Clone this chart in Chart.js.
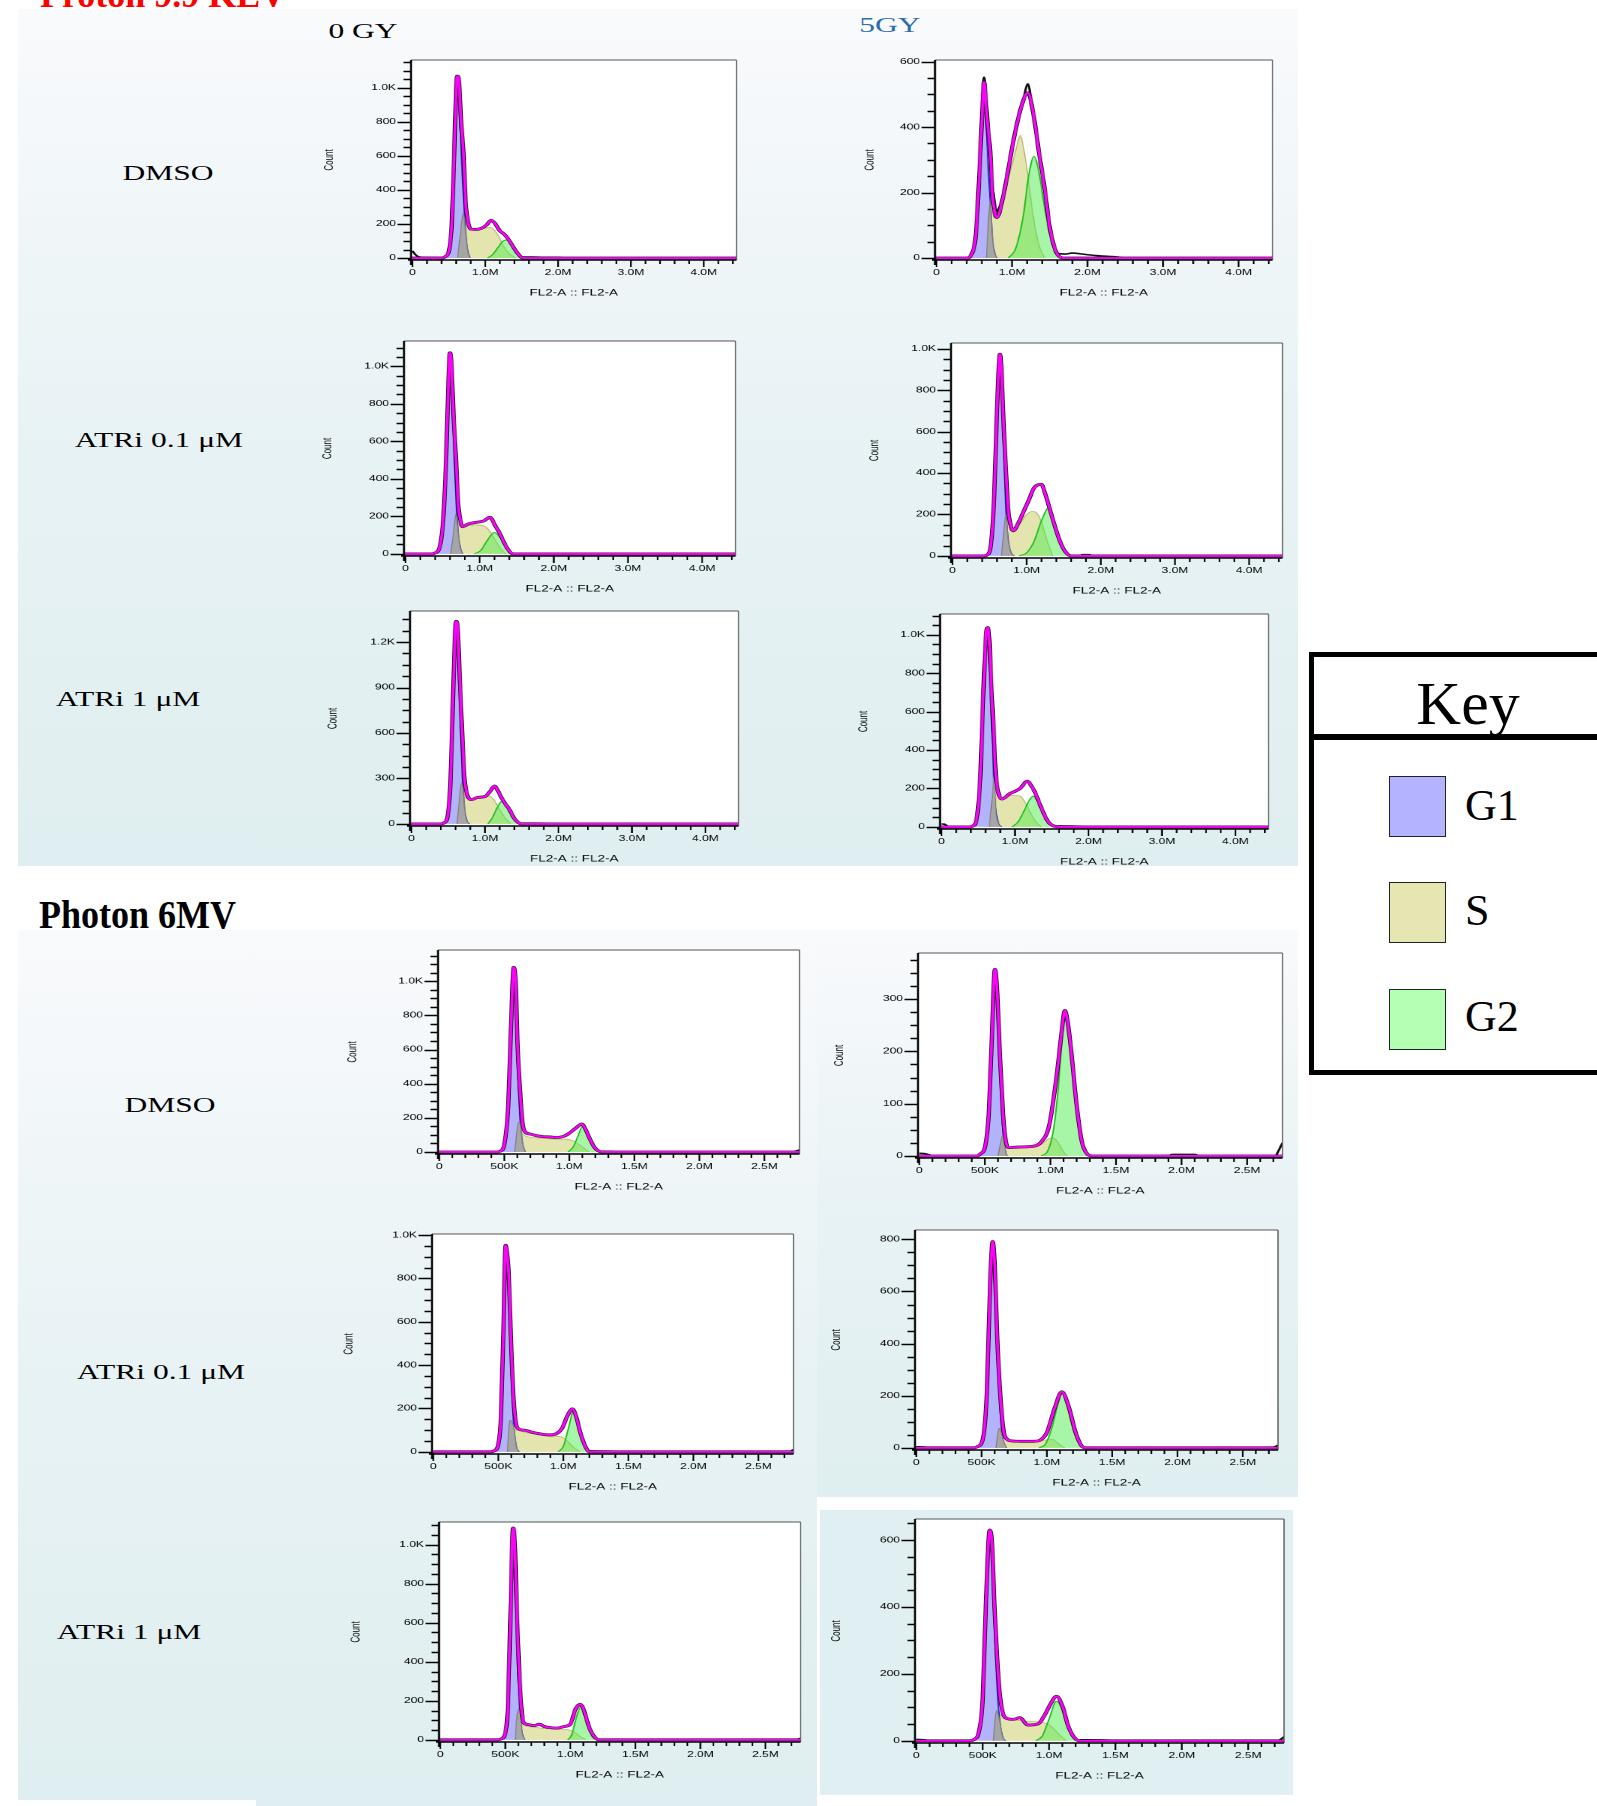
<!DOCTYPE html>
<html>
<head>
<meta charset="utf-8">
<script src="https://cdn.jsdelivr.net/npm/chart.js@4.4.1/dist/chart.umd.min.js"></script>
<style>
html, body { margin: 0; padding: 0; background: #fff; }
body { width: 1597px; height: 1806px; position: relative; overflow: hidden;
  font-family: "Liberation Serif", "Times New Roman", serif; }
.bg { position: absolute; }
.grad { background: linear-gradient(to bottom, #f9fafc 0%, #e9f3f5 45%, #dfeef0 100%); }
.lbl { position: absolute; white-space: nowrap; font-size: 21px; line-height: 24px; color: #000;
  transform: translate(-50%, -50%) scaleX(1.5); }
.plot { position: absolute; transform-origin: 0 0; transform: scaleX(1.5); }
.sw { position: absolute; width: 57px; height: 61px; border: 1.5px solid #222; box-sizing: border-box; }
.key { position: absolute; font-size: 44px; line-height: 44px; }
</style>
</head>
<body>

<!-- background panels -->
<div class="bg grad" style="left:18px;top:9px;width:1280px;height:857px;"></div>
<div class="bg grad" style="left:18px;top:930px;width:799px;height:876px;"></div>
<div class="bg grad" style="left:817px;top:930px;width:481px;height:567px;"></div>
<div class="bg" style="left:820px;top:1510px;width:473px;height:285px;background:#e0eff1;"></div>
<div class="bg" style="left:18px;top:1800px;width:238px;height:6px;background:#fff;"></div>

<!-- headings -->
<div style="position:absolute;left:40px;top:-23px;font-size:36px;line-height:36px;font-weight:bold;color:#ff0000;white-space:nowrap;">Proton 9.9 KEV</div>
<div class="lbl" style="left:363px;top:31px;">0 GY</div>
<div class="lbl" style="left:890px;top:25px;color:#2b6cb0;">5GY</div>
<div style="position:absolute;left:39px;top:895px;font-size:40px;line-height:40px;font-weight:bold;white-space:nowrap;transform:scaleX(0.9);transform-origin:0 0;">Photon 6MV</div>

<div class="lbl" style="left:168px;top:173px;">DMSO</div>
<div class="lbl" style="left:159px;top:440px;">ATRi 0.1 μM</div>
<div class="lbl" style="left:128px;top:699px;">ATRi 1 μM</div>
<div class="lbl" style="left:170px;top:1105px;">DMSO</div>
<div class="lbl" style="left:161px;top:1372px;">ATRi 0.1 μM</div>
<div class="lbl" style="left:129px;top:1632px;">ATRi 1 μM</div>

<!-- key -->
<div style="position:absolute;left:1309px;top:652px;width:330px;height:423px;border:5px solid #000;box-sizing:border-box;background:#fff;"></div>
<div style="position:absolute;left:1309px;top:734px;width:330px;height:6px;background:#000;"></div>
<div style="position:absolute;left:1468px;top:672px;font-size:62px;line-height:62px;transform:translateX(-50%);">Key</div>
<div class="sw" style="left:1389px;top:776px;background:#b3b3ff;"></div>
<div class="sw" style="left:1389px;top:882px;background:#e6e6b3;"></div>
<div class="sw" style="left:1389px;top:989px;background:#b3ffb3;"></div>
<div class="key" style="left:1465px;top:784px;">G1</div>
<div class="key" style="left:1465px;top:889px;">S</div>
<div class="key" style="left:1465px;top:995px;">G2</div>

<script>
// ---- tick values / labels ----
const PROTON_X_TICKS = [0, 1, 2, 3, 4];
const PROTON_X_LABELS = ['0', '1.0M', '2.0M', '3.0M', '4.0M'];
const PHOTON_X_TICKS = [0, 0.5, 1, 1.5, 2, 2.5];
const PHOTON_X_LABELS = ['0', '500K', '1.0M', '1.5M', '2.0M', '2.5M'];

// panel order: proton DMSO 0GY, 5GY, ATRi0.1 0GY, 5GY, ATRi1 0GY, 5GY, then photon in same order
const Y_MAX  = [1163, 605, 1135, 1028, 1405, 1108, 1183, 388, 1005, 836, 1116, 663];
const Y_STEP = [200, 200, 200, 200, 300, 200, 200, 100, 200, 200, 200, 200];

// ---- Proton 9.9 KEV, DMSO ----
const PR_DMSO_0GY_G1 = [[0.44,0],[0.50,30],[0.54,180],[0.57,520],[0.60,960],[0.615,1030],[0.64,900],[0.67,620],[0.70,360],[0.73,150],[0.76,40],[0.79,0]];
const PR_DMSO_0GY_S = [[0.62,0],[0.66,150],[0.70,265],[0.74,200],[0.79,165],[0.87,165],[0.95,170],[1.05,180],[1.10,175],[1.18,130],[1.25,70],[1.33,25],[1.42,0]];
const PR_DMSO_0GY_G2 = [[1.03,0],[1.10,20],[1.18,65],[1.24,98],[1.29,106],[1.34,90],[1.40,50],[1.46,15],[1.52,0]];
const PR_DMSO_0GY_GRAY = [[0.62,0],[0.66,150],[0.70,265],[0.73,150],[0.76,40],[0.79,0]];
const PR_DMSO_0GY_SUM = [[-0.1,0],[0.40,0],[0.45,8],[0.50,40],[0.54,200],[0.57,560],[0.60,1000],[0.615,1068],[0.64,1030],[0.67,790],[0.70,620],[0.73,330],[0.76,220],[0.80,170],[0.87,168],[0.95,175],[1.02,195],[1.08,222],[1.13,205],[1.20,160],[1.26,140],[1.31,115],[1.37,75],[1.44,30],[1.52,0],[4.5,0]];
const PR_DMSO_0GY_RAW = [[0,42],[0.03,25],[0.08,8],[0.15,4],[0.30,3],[0.42,3],[0.45,8],[0.46,null],[1.50,6],[1.65,6],[1.80,4],[2.0,4],[2.1,0]];

const PR_DMSO_5GY_G1 = [[0.45,0],[0.52,60],[0.57,250],[0.61,440],[0.63,485],[0.65,440],[0.68,300],[0.71,175],[0.74,60],[0.77,15],[0.80,0]];
const PR_DMSO_5GY_S = [[0.66,0],[0.69,120],[0.71,175],[0.74,140],[0.80,120],[0.86,160],[0.95,240],[1.05,330],[1.11,375],[1.15,340],[1.20,270],[1.28,130],[1.35,45],[1.43,0]];
const PR_DMSO_5GY_G2 = [[0.95,0],[1.05,30],[1.15,130],[1.22,250],[1.29,310],[1.35,270],[1.42,170],[1.50,70],[1.57,15],[1.64,0]];
const PR_DMSO_5GY_GRAY = [[0.66,0],[0.69,120],[0.71,172],[0.74,60],[0.77,15],[0.80,0]];
const PR_DMSO_5GY_SUM = [[-0.1,0],[0.40,0],[0.46,10],[0.52,70],[0.57,270],[0.61,470],[0.63,537],[0.65,490],[0.68,400],[0.71,330],[0.74,200],[0.77,140],[0.80,124],[0.88,185],[0.95,270],[1.02,360],[1.12,460],[1.21,505],[1.29,430],[1.36,318],[1.43,216],[1.50,94],[1.60,12],[1.70,0],[4.5,0]];
const PR_DMSO_5GY_RAW = [[0.60,470],[0.63,552],[0.66,470],[0.665,null],[0.74,215],[0.80,143],[0.86,172],[0.861,null],[1.14,470],[1.21,532],[1.27,455],[1.271,null],[1.58,14],[1.70,12],[1.80,15],[1.90,13],[2.0,10],[2.2,6],[2.4,3],[2.5,0]];

// ---- Proton, ATRi 0.1 uM ----
const PR_A01_0GY_G1 = [[0.40,0],[0.46,30],[0.51,180],[0.55,500],[0.58,880],[0.60,980],[0.62,900],[0.65,600],[0.68,300],[0.71,110],[0.74,30],[0.77,0]];
const PR_A01_0GY_S = [[0.61,0],[0.65,120],[0.68,215],[0.72,160],[0.77,140],[0.85,150],[0.95,155],[1.05,150],[1.12,130],[1.20,80],[1.28,30],[1.35,0]];
const PR_A01_0GY_G2 = [[0.93,0],[1.02,20],[1.10,70],[1.20,114],[1.27,90],[1.33,50],[1.38,20],[1.43,0]];
const PR_A01_0GY_GRAY = [[0.61,0],[0.65,120],[0.68,215],[0.71,110],[0.74,30],[0.77,0]];
const PR_A01_0GY_SUM = [[-0.1,0],[0.36,0],[0.40,5],[0.46,35],[0.51,190],[0.55,530],[0.58,930],[0.60,1072],[0.62,1010],[0.65,720],[0.68,515],[0.71,270],[0.74,180],[0.77,145],[0.85,160],[0.95,168],[1.05,175],[1.14,195],[1.21,150],[1.27,110],[1.31,76],[1.38,25],[1.45,0],[4.5,0]];
const PR_A01_0GY_RAW = [];

const PR_A01_5GY_G1 = [[0.47,0],[0.52,50],[0.56,250],[0.60,650],[0.63,900],[0.64,931],[0.66,840],[0.69,520],[0.72,230],[0.75,80],[0.79,15],[0.83,0]];
const PR_A01_5GY_S = [[0.66,0],[0.69,110],[0.72,198],[0.76,150],[0.82,115],[0.90,150],[1.00,200],[1.08,215],[1.14,205],[1.20,165],[1.27,80],[1.35,0]];
const PR_A01_5GY_G2 = [[0.90,0],[1.00,15],[1.10,70],[1.20,170],[1.30,233],[1.37,170],[1.44,80],[1.50,25],[1.56,0]];
const PR_A01_5GY_GRAY = [[0.66,0],[0.69,110],[0.72,198],[0.75,80],[0.79,15],[0.83,0]];
const PR_A01_5GY_SUM = [[-0.1,0],[0.42,0],[0.47,5],[0.52,60],[0.56,270],[0.60,700],[0.63,950],[0.64,974],[0.66,900],[0.69,630],[0.72,420],[0.75,230],[0.79,140],[0.82,121],[0.89,160],[0.96,215],[1.03,270],[1.10,328],[1.20,345],[1.25,300],[1.30,241],[1.35,180],[1.40,121],[1.45,70],[1.51,26],[1.60,0],[4.5,0]];
const PR_A01_5GY_RAW = [[1.72,0],[1.75,6],[1.85,6],[1.88,0]];

// ---- Proton, ATRi 1 uM ----
const PR_A1_0GY_G1 = [[0.44,0],[0.49,40],[0.53,250],[0.56,700],[0.59,1180],[0.61,1300],[0.63,1180],[0.66,760],[0.69,330],[0.72,110],[0.75,25],[0.79,0]];
const PR_A1_0GY_S = [[0.62,0],[0.65,150],[0.68,270],[0.72,200],[0.77,165],[0.85,170],[0.95,178],[1.05,185],[1.12,160],[1.20,95],[1.28,35],[1.35,0]];
const PR_A1_0GY_G2 = [[1.04,0],[1.10,40],[1.17,110],[1.23,149],[1.29,120],[1.35,60],[1.42,15],[1.48,0]];
const PR_A1_0GY_GRAY = [[0.62,0],[0.65,150],[0.68,270],[0.70,230],[0.72,110],[0.75,25],[0.79,0]];
const PR_A1_0GY_SUM = [[-0.1,0],[0.40,0],[0.45,8],[0.49,45],[0.53,270],[0.56,740],[0.59,1230],[0.61,1337],[0.63,1280],[0.66,920],[0.69,600],[0.72,310],[0.76,190],[0.82,160],[0.90,175],[1.00,180],[1.07,215],[1.13,250],[1.18,215],[1.23,168],[1.28,130],[1.33,97],[1.40,35],[1.50,0],[4.5,0]];
const PR_A1_0GY_RAW = [[1.5,5],[1.7,5],[1.9,4],[2.0,0]];

const PR_A1_5GY_G1 = [[0.42,0],[0.48,40],[0.53,250],[0.57,650],[0.61,960],[0.63,981],[0.65,890],[0.68,560],[0.71,270],[0.74,90],[0.78,15],[0.82,0]];
const PR_A1_5GY_S = [[0.65,0],[0.69,150],[0.72,266],[0.75,190],[0.82,145],[0.90,160],[1.00,164],[1.07,160],[1.15,120],[1.23,60],[1.30,20],[1.36,0]];
const PR_A1_5GY_G2 = [[0.96,0],[1.04,25],[1.12,80],[1.19,135],[1.25,160],[1.31,130],[1.38,70],[1.45,25],[1.53,0]];
const PR_A1_5GY_GRAY = [[0.65,0],[0.69,150],[0.72,266],[0.74,90],[0.78,15],[0.82,0]];
const PR_A1_5GY_SUM = [[-0.1,0],[0.38,0],[0.43,5],[0.48,45],[0.53,270],[0.57,700],[0.61,1010],[0.63,1037],[0.65,980],[0.68,720],[0.71,500],[0.74,270],[0.78,170],[0.82,145],[0.93,173],[1.00,185],[1.07,200],[1.17,238],[1.22,215],[1.27,182],[1.32,135],[1.37,89],[1.43,40],[1.48,15],[1.60,0],[4.5,0]];
const PR_A1_5GY_RAW = [[0,15],[0.04,14],[0.08,4],[0.12,0],[0.13,null],[1.55,5],[1.8,4],[2.0,3],[2.05,0]];

// ---- Photon 6MV, DMSO ----
const PH_DMSO_0GY_G1 = [[0.46,0],[0.50,40],[0.53,250],[0.55,650],[0.57,1010],[0.585,900],[0.60,520],[0.62,200],[0.64,50],[0.66,0]];
const PH_DMSO_0GY_S = [[0.58,0],[0.60,140],[0.61,176],[0.63,120],[0.66,95],[0.72,85],[0.80,80],[0.90,75],[0.98,75],[1.04,60],[1.10,30],[1.15,0]];
const PH_DMSO_0GY_G2 = [[0.99,0],[1.03,30],[1.07,100],[1.10,148],[1.13,120],[1.17,55],[1.21,10],[1.23,0]];
const PH_DMSO_0GY_GRAY = [[0.58,0],[0.60,140],[0.61,176],[0.62,170],[0.64,50],[0.66,0]];
const PH_DMSO_0GY_SUM = [[-0.1,0],[0.44,0],[0.47,5],[0.50,45],[0.53,270],[0.55,700],[0.572,1081],[0.59,950],[0.60,660],[0.62,370],[0.64,170],[0.66,117],[0.70,105],[0.75,95],[0.80,90],[0.85,88],[0.90,85],[0.95,90],[0.99,105],[1.05,140],[1.095,164],[1.12,140],[1.155,81],[1.19,30],[1.22,8],[1.25,0],[2.8,0]];
const PH_DMSO_0GY_RAW = [[1.25,4],[1.33,3],[1.36,0],[1.37,null],[2.72,0],[2.77,12]];

const PH_DMSO_5GY_G1 = [[0.46,0],[0.50,15],[0.53,80],[0.55,200],[0.57,310],[0.58,328],[0.595,280],[0.615,150],[0.64,40],[0.66,5],[0.67,0]];
const PH_DMSO_5GY_S = [[0.60,0],[0.62,25],[0.635,39],[0.65,25],[0.68,16],[0.75,17],[0.85,18],[0.93,22],[0.98,32],[1.02,35],[1.06,25],[1.10,8],[1.13,0]];
const PH_DMSO_5GY_G2 = [[0.93,0],[0.98,10],[1.02,45],[1.06,130],[1.09,230],[1.11,274],[1.13,250],[1.16,180],[1.20,90],[1.24,25],[1.28,0]];
const PH_DMSO_5GY_GRAY = [[0.60,0],[0.62,25],[0.635,39],[0.65,25],[0.66,5],[0.67,0]];
const PH_DMSO_5GY_SUM = [[-0.1,0],[0.44,0],[0.47,5],[0.50,16],[0.53,82],[0.55,205],[0.577,357],[0.595,310],[0.615,190],[0.64,75],[0.66,28],[0.68,16],[0.75,17],[0.85,18],[0.93,27],[0.99,58],[1.05,158],[1.085,236],[1.11,278],[1.135,250],[1.16,197],[1.20,97],[1.24,27],[1.28,4],[1.32,0],[2.8,0]];
const PH_DMSO_5GY_RAW = [[0,5],[0.05,4],[0.1,0],[0.11,null],[1.9,0],[1.93,3],[2.1,3],[2.13,0],[2.14,null],[2.72,0],[2.77,25]];

// ---- Photon, ATRi 0.1 uM ----
const PH_A01_0GY_G1 = [[0.47,0],[0.50,30],[0.52,150],[0.54,550],[0.555,880],[0.565,903],[0.58,720],[0.60,350],[0.62,110],[0.64,20],[0.66,0]];
const PH_A01_0GY_S = [[0.57,0],[0.58,100],[0.59,146],[0.61,110],[0.65,100],[0.72,88],[0.80,80],[0.90,72],[0.98,70],[1.03,50],[1.08,20],[1.13,0]];
const PH_A01_0GY_G2 = [[0.96,0],[1.00,25],[1.04,110],[1.076,183],[1.10,150],[1.14,60],[1.18,12],[1.21,0]];
const PH_A01_0GY_GRAY = [[0.57,0],[0.58,100],[0.59,146],[0.61,130],[0.62,110],[0.64,20],[0.66,0]];
const PH_A01_0GY_SUM = [[-0.1,0],[0.44,0],[0.47,5],[0.50,35],[0.52,160],[0.54,580],[0.556,953],[0.57,900],[0.58,820],[0.60,470],[0.62,220],[0.65,108],[0.70,100],[0.75,92],[0.80,85],[0.85,80],[0.90,78],[0.95,85],[0.99,108],[1.03,164],[1.07,198],[1.10,160],[1.13,90],[1.17,24],[1.20,0],[2.8,0]];
const PH_A01_0GY_RAW = [[1.2,4],[1.35,3],[1.5,0],[1.51,null],[2.74,0],[2.77,10]];

const PH_A01_5GY_G1 = [[0.47,0],[0.51,30],[0.54,200],[0.565,600],[0.585,761],[0.60,650],[0.62,360],[0.645,120],[0.665,30],[0.69,0]];
const PH_A01_5GY_S = [[0.61,0],[0.625,55],[0.635,75],[0.66,45],[0.69,30],[0.76,24],[0.85,24],[0.93,26],[0.99,30],[1.04,33],[1.08,20],[1.12,5],[1.14,0]];
const PH_A01_5GY_G2 = [[0.94,0],[0.99,15],[1.04,80],[1.08,160],[1.115,212],[1.15,170],[1.19,90],[1.23,30],[1.27,5],[1.30,0]];
const PH_A01_5GY_GRAY = [[0.61,0],[0.625,55],[0.635,75],[0.65,60],[0.665,30],[0.69,0]];
const PH_A01_5GY_SUM = [[-0.1,0],[0.44,0],[0.47,5],[0.51,35],[0.54,210],[0.565,620],[0.585,792],[0.60,710],[0.62,420],[0.645,190],[0.67,60],[0.69,36],[0.72,27],[0.80,25],[0.90,25],[0.95,30],[1.00,59],[1.06,153],[1.115,215],[1.17,153],[1.22,59],[1.27,5],[1.30,0],[2.8,0]];
const PH_A01_5GY_RAW = [[0,4],[0.06,3],[0.1,0],[0.11,null],[2.73,0],[2.77,10]];

// ---- Photon, ATRi 1 uM ----
const PH_A1_0GY_G1 = [[0.47,0],[0.50,30],[0.52,160],[0.54,600],[0.555,1000],[0.56,1060],[0.575,870],[0.59,480],[0.61,170],[0.63,35],[0.65,0]];
const PH_A1_0GY_S = [[0.575,0],[0.59,120],[0.60,157],[0.62,100],[0.65,75],[0.72,65],[0.80,58],[0.90,55],[0.98,52],[1.03,40],[1.08,15],[1.12,0]];
const PH_A1_0GY_G2 = [[0.98,0],[1.01,25],[1.045,110],[1.077,165],[1.10,140],[1.14,60],[1.17,15],[1.20,0]];
const PH_A1_0GY_GRAY = [[0.575,0],[0.59,120],[0.60,157],[0.61,150],[0.63,35],[0.65,0]];
const PH_A1_0GY_SUM = [[-0.1,0],[0.44,0],[0.47,5],[0.50,35],[0.52,170],[0.54,650],[0.56,1085],[0.575,980],[0.59,620],[0.61,300],[0.64,89],[0.68,78],[0.72,72],[0.76,80],[0.80,68],[0.85,62],[0.90,60],[0.95,68],[1.00,80],[1.04,157],[1.077,182],[1.10,160],[1.125,106],[1.15,55],[1.18,20],[1.22,0],[2.8,0]];
const PH_A1_0GY_RAW = [[2.74,0],[2.77,8]];

const PH_A1_5GY_G1 = [[0.42,0],[0.47,20],[0.50,120],[0.525,400],[0.545,600],[0.553,620],[0.57,530],[0.59,320],[0.61,150],[0.63,55],[0.65,12],[0.67,0]];
const PH_A1_5GY_S = [[0.58,0],[0.595,70],[0.605,91],[0.63,80],[0.67,66],[0.75,62],[0.85,58],[0.95,55],[1.00,48],[1.05,30],[1.10,10],[1.13,0]];
const PH_A1_5GY_G2 = [[0.90,0],[0.95,15],[1.00,65],[1.056,118],[1.09,100],[1.13,50],[1.17,15],[1.20,0]];
const PH_A1_5GY_GRAY = [[0.58,0],[0.595,70],[0.605,91],[0.63,55],[0.65,12],[0.67,0]];
const PH_A1_5GY_SUM = [[-0.1,0],[0.40,0],[0.44,5],[0.47,25],[0.50,125],[0.525,420],[0.553,630],[0.57,590],[0.59,390],[0.61,240],[0.63,135],[0.67,69],[0.73,64],[0.78,69],[0.84,47],[0.92,51],[0.97,79],[1.01,109],[1.056,133],[1.105,99],[1.14,49],[1.18,15],[1.23,0],[2.8,0]];
const PH_A1_5GY_RAW = [[0,4],[0.06,3],[0.1,0],[0.11,null],[1.23,3],[1.45,2],[1.5,0],[1.51,null],[2.73,0],[2.77,12]];

const PANEL_G1 = [PR_DMSO_0GY_G1, PR_DMSO_5GY_G1, PR_A01_0GY_G1, PR_A01_5GY_G1, PR_A1_0GY_G1, PR_A1_5GY_G1,
  PH_DMSO_0GY_G1, PH_DMSO_5GY_G1, PH_A01_0GY_G1, PH_A01_5GY_G1, PH_A1_0GY_G1, PH_A1_5GY_G1];
const PANEL_S = [PR_DMSO_0GY_S, PR_DMSO_5GY_S, PR_A01_0GY_S, PR_A01_5GY_S, PR_A1_0GY_S, PR_A1_5GY_S,
  PH_DMSO_0GY_S, PH_DMSO_5GY_S, PH_A01_0GY_S, PH_A01_5GY_S, PH_A1_0GY_S, PH_A1_5GY_S];
const PANEL_G2 = [PR_DMSO_0GY_G2, PR_DMSO_5GY_G2, PR_A01_0GY_G2, PR_A01_5GY_G2, PR_A1_0GY_G2, PR_A1_5GY_G2,
  PH_DMSO_0GY_G2, PH_DMSO_5GY_G2, PH_A01_0GY_G2, PH_A01_5GY_G2, PH_A1_0GY_G2, PH_A1_5GY_G2];
const PANEL_GRAY = [PR_DMSO_0GY_GRAY, PR_DMSO_5GY_GRAY, PR_A01_0GY_GRAY, PR_A01_5GY_GRAY, PR_A1_0GY_GRAY, PR_A1_5GY_GRAY,
  PH_DMSO_0GY_GRAY, PH_DMSO_5GY_GRAY, PH_A01_0GY_GRAY, PH_A01_5GY_GRAY, PH_A1_0GY_GRAY, PH_A1_5GY_GRAY];
const PANEL_SUM = [PR_DMSO_0GY_SUM, PR_DMSO_5GY_SUM, PR_A01_0GY_SUM, PR_A01_5GY_SUM, PR_A1_0GY_SUM, PR_A1_5GY_SUM,
  PH_DMSO_0GY_SUM, PH_DMSO_5GY_SUM, PH_A01_0GY_SUM, PH_A01_5GY_SUM, PH_A1_0GY_SUM, PH_A1_5GY_SUM];
const PANEL_RAW = [PR_DMSO_0GY_RAW, PR_DMSO_5GY_RAW, PR_A01_0GY_RAW, PR_A01_5GY_RAW, PR_A1_0GY_RAW, PR_A1_5GY_RAW,
  PH_DMSO_0GY_RAW, PH_DMSO_5GY_RAW, PH_A01_0GY_RAW, PH_A01_5GY_RAW, PH_A1_0GY_RAW, PH_A1_5GY_RAW];

// ---- layout (page px): plot frame left, top, right, bottom; distance of "Count" from frame ----
const FRAMES = [
  [411, 60, 737, 260], [935, 60, 1272, 260],
  [404, 341, 735, 556], [951, 343, 1283, 558],
  [410, 611, 738, 826], [940, 614, 1269, 829],
  [438, 950, 799, 1154], [918, 953, 1282, 1158],
  [432, 1234, 793, 1454], [915, 1230, 1278, 1450],
  [439, 1522, 800, 1742], [915, 1519, 1284, 1743]
];
const COUNT_DIST = [81, 65, 76, 76, 77, 76, 85, 78, 83, 78, 83, 78];

// PADT must cover the y-scale label padding Chart.js reserves above the axis
const SX = 1.5, PADL = 64, PADR = 4, PADT = 18, PADB = 42;
Chart.defaults.font.family = "'Liberation Sans', Arial, sans-serif";

function fmtY(v) {
  return v >= 1000 ? (v / 1000).toFixed(1) + 'K' : String(v);
}

// white plot area, frame, axis lines and major/minor ticks
const frameTicks = {
  id: 'frameTicks',
  beforeDraw(chart) {
    const { ctx, chartArea: a } = chart;
    ctx.save();
    ctx.fillStyle = '#fff';
    ctx.fillRect(a.left, a.top, a.right - a.left, a.bottom - a.top);
    ctx.restore();
  },
  afterDatasetsDraw(chart) {
    const { ctx, chartArea: a, scales: { x, y } } = chart;
    const o = chart.options.plugins.frameTicks;
    ctx.save();
    ctx.strokeStyle = '#555';
    ctx.lineWidth = 1;
    ctx.beginPath();
    ctx.moveTo(a.left, a.top); ctx.lineTo(a.right, a.top);
    ctx.stroke();
    ctx.lineWidth = 0.8;
    ctx.beginPath();
    ctx.moveTo(a.right, a.top); ctx.lineTo(a.right, a.bottom);
    ctx.stroke();

    ctx.strokeStyle = '#000';
    // y axis + y ticks
    ctx.lineWidth = 1.3;
    ctx.beginPath();
    ctx.moveTo(a.left, a.top); ctx.lineTo(a.left, a.bottom + 5);
    ctx.stroke();
    ctx.lineWidth = 1.6;
    ctx.beginPath();
    const ym = o.yStep / 4;
    for (let k = 0; k * ym <= y.max; k++) {
      const py = Math.round(y.getPixelForValue(k * ym)) + 0.5;
      const len = k % 4 === 0 ? 9 : 5;
      ctx.moveTo(a.left - len, py); ctx.lineTo(a.left, py);
    }
    // x axis line
    ctx.moveTo(a.left - 2, a.bottom); ctx.lineTo(a.right, a.bottom);
    ctx.stroke();
    // x ticks
    ctx.lineWidth = 1.1;
    ctx.beginPath();
    for (let k = 0; k * o.xMinor <= x.max; k++) {
      const px = x.getPixelForValue(k * o.xMinor);
      const len = k % o.xPer === 0 ? 7 : 4;
      ctx.moveTo(px, a.bottom); ctx.lineTo(px, a.bottom + len);
    }
    ctx.stroke();
    ctx.restore();
  }
};

function area(data, fill, border, width, order) {
  return { data, backgroundColor: fill, borderColor: border, borderWidth: width, fill: 'origin',
    pointRadius: 0, cubicInterpolationMode: 'monotone', order };
}
function line(data, color, width, order) {
  return { data, borderColor: color, borderWidth: width, fill: false, pointRadius: 0,
    cubicInterpolationMode: 'monotone', spanGaps: false, order };
}

function buildPanel(i) {
  const [L, T, R, B] = FRAMES[i];
  const photon = i >= 6;
  const wInt = Math.round(PADL + (R - L) / SX + PADR);
  const hInt = PADT + (B - T) + PADB;

  const box = document.createElement('div');
  box.className = 'plot';
  box.style.left = (L - PADL * SX) + 'px';
  box.style.top = (T - PADT) + 'px';
  box.style.width = wInt + 'px';
  box.style.height = hInt + 'px';
  const cv = document.createElement('canvas');
  cv.width = wInt;
  cv.height = hInt;
  box.appendChild(cv);
  document.body.appendChild(box);

  const xTicks = photon ? PHOTON_X_TICKS : PROTON_X_TICKS;
  const xLabels = photon ? PHOTON_X_LABELS : PROTON_X_LABELS;
  const yMax = Y_MAX[i], yStep = Y_STEP[i];
  const yMajors = [];
  for (let v = 0; v <= yMax; v += yStep) yMajors.push(v);
  const countPad = PADL - COUNT_DIST[i] / SX - 4.8;

  new Chart(cv, {
    type: 'line',
    data: {
      datasets: [
        line(PANEL_SUM[i], '#ff00ff', 1.9, 1),
        line(PANEL_RAW[i], '#111', 1.6, 2),
        line(PANEL_SUM[i], '#111', 2.8, 3),
        area(PANEL_GRAY[i], '#a6a6a6', '#808080', 0.7, 4),
        area(PANEL_G1[i], '#b3b3fb', '#2a2ad0', 1, 5),
        area(PANEL_G2[i], 'rgba(80,235,80,0.5)', '#20c020', 1, 6),
        area(PANEL_S[i], '#e4e4ae', 'rgba(150,150,60,0.6)', 0.8, 7)
      ]
    },
    options: {
      responsive: false,
      animation: false,
      devicePixelRatio: 2,
      events: [],
      layout: { padding: { left: 0, right: PADR, top: PADT, bottom: 0 } },
      scales: {
        x: {
          type: 'linear',
          min: photon ? -0.01 : -0.02,
          max: photon ? 2.77 : 4.45,
          afterBuildTicks: s => { s.ticks = xTicks.map(v => ({ value: v })); },
          afterFit: s => { s.height = PADB; },
          grid: { display: false, drawTicks: false },
          border: { display: false },
          ticks: { autoSkip: false, maxRotation: 0, padding: 8, color: '#000', font: { size: 8 },
            callback: (v, idx) => xLabels[idx] },
          title: { display: true, text: 'FL2-A :: FL2-A', color: '#000', font: { size: 9 },
            padding: { top: 0, bottom: 3.6 } }
        },
        y: {
          type: 'linear',
          min: -yMax * 0.01,
          max: yMax,
          afterBuildTicks: s => { s.ticks = yMajors.map(v => ({ value: v })); },
          afterFit: s => { s.width = PADL; },
          grid: { display: false, drawTicks: false },
          border: { display: false },
          ticks: { autoSkip: false, padding: 10, color: '#000', font: { size: 8 }, callback: v => fmtY(v) },
          title: { display: true, text: 'Count', color: '#000', font: { size: 8 },
            padding: { top: countPad, bottom: 0 } }
        }
      },
      plugins: {
        legend: { display: false },
        tooltip: { enabled: false },
        frameTicks: { yStep, xMinor: photon ? 0.1 : 0.2, xPer: 5 }
      }
    },
    plugins: [frameTicks]
  });
}

PANEL_G1.forEach((_, i) => buildPanel(i));
</script>
</body>
</html>
